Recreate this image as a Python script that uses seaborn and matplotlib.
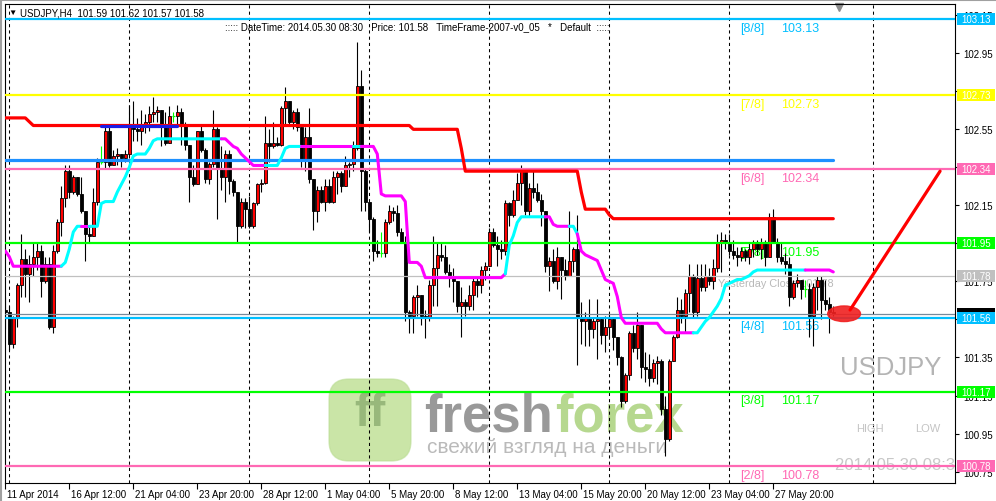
import numpy as np
import matplotlib
matplotlib.use('Agg')
import matplotlib.pyplot as plt
import seaborn as sns
from matplotlib.patches import Ellipse, FancyBboxPatch, Rectangle
from matplotlib.transforms import IdentityTransform, ScaledTranslation

sns.set_theme(style='white')
plt.rcParams['font.family'] = ['Liberation Sans', 'DejaVu Sans']

# --- USDJPY H4 candles (open of each bar = close of previous bar) ---
first_open = 101.60
closes = [101.59, 101.42, 101.56, 101.73, 101.87, 101.79, 101.84, 101.88, 101.91, 101.75,
          101.84, 101.51, 101.91, 102.06, 102.19, 102.33, 102.22, 102.30, 102.21, 102.12,
          102.00, 101.99, 102.17, 102.38, 102.38, 102.54, 102.36, 102.41, 102.42, 102.40,
          102.42, 102.57, 102.55, 102.54, 102.58, 102.59, 102.63, 102.64, 102.65, 102.57,
          102.48, 102.62, 102.62, 102.64, 102.57, 102.47, 102.30, 102.26, 102.54, 102.44,
          102.29, 102.37, 102.55, 102.34, 102.30, 102.42, 102.28, 102.22, 102.04, 102.17,
          102.13, 102.04, 102.16, 102.26, 102.27, 102.48, 102.46, 102.48, 102.47, 102.66,
          102.70, 102.59, 102.64, 102.56, 102.39, 102.51, 102.29, 102.12, 102.23, 102.17,
          102.25, 102.17, 102.30, 102.32, 102.25, 102.36, 102.37, 102.45, 102.78, 102.33,
          102.17, 102.08, 101.91, 101.90, 101.90, 102.06, 102.12, 102.11, 102.01, 101.96,
          101.59, 101.57, 101.67, 101.68, 101.57, 101.56, 101.73, 101.82, 101.89, 101.88,
          101.80, 101.78, 101.75, 101.62, 101.64, 101.62, 101.68, 101.75, 101.73, 101.81,
          101.83, 102.01, 101.94, 101.92, 101.91, 102.16, 102.10, 102.18, 102.27, 102.33,
          102.12, 102.24, 102.22, 102.18, 102.12, 101.83, 101.86, 101.75, 101.88, 101.81,
          101.78, 101.86, 101.92, 101.56, 101.54, 101.56, 101.50, 101.54, 101.55, 101.47,
          101.51, 101.55, 101.46, 101.35, 101.12, 101.26, 101.48, 101.40, 101.52, 101.30,
          101.29, 101.24, 101.32, 101.33, 101.08, 100.92, 101.33, 101.46, 101.60, 101.57,
          101.69, 101.78, 101.59, 101.77, 101.72, 101.78, 101.75, 101.82, 101.96, 101.97,
          101.95, 101.91, 101.89, 101.88, 101.91, 101.88, 101.92, 101.96, 101.92, 101.96,
          101.88, 102.09, 101.96, 101.88, 101.86, 101.84, 101.67, 101.74, 101.76, 101.71,
          101.71, 101.57, 101.72, 101.76, 101.65, 101.63, 101.59, 101.58]
highs = [101.67, 101.62, 101.57, 101.74, 102.00, 101.92, 101.89, 101.96, 101.96, 101.94,
         101.88, 101.88, 101.94, 102.08, 102.25, 102.36, 102.36, 102.31, 102.30, 102.30,
         102.12, 102.04, 102.24, 102.40, 102.46, 102.57, 102.57, 102.44, 102.45, 102.42,
         102.44, 102.68, 102.70, 102.61, 102.65, 102.63, 102.67, 102.72, 102.67, 102.65,
         102.64, 102.67, 102.64, 102.68, 102.66, 102.59, 102.47, 102.36, 102.54, 102.57,
         102.45, 102.38, 102.65, 102.56, 102.46, 102.44, 102.44, 102.29, 102.22, 102.19,
         102.19, 102.20, 102.17, 102.27, 102.29, 102.62, 102.55, 102.59, 102.51, 102.67,
         102.77, 102.70, 102.65, 102.66, 102.55, 102.56, 102.66, 102.29, 102.25, 102.25,
         102.29, 102.29, 102.33, 102.33, 102.33, 102.41, 102.38, 102.49, 103.01, 102.86,
         102.34, 102.16, 102.09, 101.97, 102.01, 102.08, 102.15, 102.14, 102.15, 102.03,
         101.99, 101.60, 101.68, 101.73, 101.67, 101.60, 101.76, 101.99, 101.95, 101.96,
         101.94, 101.84, 101.82, 101.75, 101.72, 101.66, 101.73, 101.77, 101.78, 101.83,
         101.85, 102.03, 102.03, 101.99, 101.97, 102.18, 102.17, 102.23, 102.32, 102.36,
         102.33, 102.27, 102.33, 102.27, 102.21, 102.12, 101.88, 101.92, 101.93, 101.88,
         101.87, 102.12, 101.93, 102.10, 101.64, 101.59, 101.66, 101.56, 101.66, 101.56,
         101.57, 101.58, 101.56, 101.46, 101.36, 101.27, 101.49, 101.52, 101.59, 101.47,
         101.38, 101.37, 101.34, 101.36, 101.34, 101.15, 101.34, 101.47, 101.67, 101.66,
         101.71, 101.84, 101.79, 101.84, 101.84, 101.84, 101.82, 101.87, 102.00, 102.01,
         102.00, 102.00, 101.97, 101.93, 101.93, 101.92, 101.95, 101.97, 101.97, 101.98,
         101.97, 102.11, 102.13, 101.98, 101.96, 101.90, 101.88, 101.76, 101.79, 101.76,
         101.76, 101.74, 101.74, 101.78, 101.78, 101.76, 101.67, 101.62]
lows = [101.50, 101.39, 101.40, 101.51, 101.67, 101.67, 101.64, 101.78, 101.81, 101.67,
        101.74, 101.50, 101.48, 101.90, 101.99, 102.14, 102.19, 102.21, 102.20, 102.11,
        101.86, 101.95, 101.99, 102.15, 102.37, 102.34, 102.35, 102.37, 102.36, 102.35,
        102.38, 102.41, 102.49, 102.49, 102.47, 102.53, 102.54, 102.59, 102.59, 102.46,
        102.47, 102.53, 102.59, 102.56, 102.47, 102.44, 102.17, 102.25, 102.28, 102.43,
        102.27, 102.26, 102.35, 102.08, 102.23, 102.17, 102.21, 102.20, 101.96, 102.03,
        102.03, 102.03, 102.03, 102.15, 102.22, 102.26, 102.38, 102.45, 102.46, 102.46,
        102.58, 102.57, 102.55, 102.54, 102.35, 102.33, 102.27, 102.02, 102.06, 102.16,
        102.12, 102.16, 102.16, 102.21, 102.22, 102.29, 102.30, 102.33, 102.44, 102.12,
        102.12, 102.01, 101.86, 101.88, 101.88, 101.88, 102.05, 102.07, 101.99, 101.95,
        101.54, 101.48, 101.48, 101.57, 101.52, 101.45, 101.54, 101.62, 101.62, 101.86,
        101.79, 101.72, 101.64, 101.59, 101.46, 101.57, 101.60, 101.60, 101.67, 101.69,
        101.76, 101.86, 101.93, 101.83, 101.87, 101.89, 102.04, 102.09, 102.19, 102.15,
        102.10, 102.09, 102.19, 102.17, 102.04, 101.80, 101.70, 101.74, 101.71, 101.66,
        101.76, 101.80, 101.80, 101.31, 101.42, 101.41, 101.41, 101.45, 101.34, 101.42,
        101.38, 101.45, 101.39, 101.31, 101.09, 101.11, 101.23, 101.38, 101.34, 101.24,
        101.22, 101.20, 101.22, 101.21, 101.05, 100.83, 100.91, 101.33, 101.45, 101.53,
        101.48, 101.59, 101.56, 101.57, 101.70, 101.70, 101.73, 101.71, 101.80, 101.80,
        101.92, 101.89, 101.87, 101.83, 101.86, 101.86, 101.84, 101.88, 101.89, 101.87,
        101.83, 101.88, 101.95, 101.85, 101.84, 101.79, 101.62, 101.66, 101.72, 101.66,
        101.67, 101.46, 101.41, 101.60, 101.55, 101.60, 101.48, 101.57]

date_labels = ['11 Apr 2014', '16 Apr 12:00', '21 Apr 04:00', '23 Apr 20:00', '28 Apr 12:00',
               '1 May 04:00', '5 May 20:00', '8 May 12:00', '13 May 04:00', '15 May 20:00',
               '20 May 12:00', '23 May 04:00', '27 May 20:00']
date_label_bars = [0, 16, 32, 48, 64, 80, 96, 112, 128, 144, 160, 176, 192]
grid_bars = [1, 31, 61, 91, 121, 151, 181, 217]

# indicator step lines: (first bar, value) held until the next entry
red_steps = [(0, 102.61), (6, 102.59), (7, 102.57), (102, 102.55), (114, 102.45),
             (115, 102.33), (144, 102.22), (145, 102.13), (151, 102.10), (152, 102.08)]
blue_overlay = (24, 43)
pivot_level = 102.39
trail_steps = [(0, 101.91), (1, 101.88), (2, 101.83), (15, 101.85), (16, 101.92), (17, 102.01),
               (18, 102.04), (24, 102.16), (25, 102.17), (28, 102.22), (29, 102.26), (30, 102.30),
               (31, 102.35), (32, 102.41), (33, 102.42), (36, 102.45), (37, 102.49), (38, 102.50),
               (56, 102.48), (57, 102.46), (58, 102.45), (59, 102.42), (60, 102.40), (61, 102.38),
               (62, 102.36), (69, 102.40), (70, 102.45), (71, 102.46), (93, 102.42), (94, 102.21),
               (95, 102.20), (100, 102.17), (101, 101.85), (104, 101.83), (105, 101.77),
               (125, 101.79), (126, 101.94), (127, 101.99), (128, 102.06), (129, 102.09),
               (137, 102.05), (138, 102.04), (143, 102.00), (144, 101.91), (145, 101.89),
               (146, 101.88), (147, 101.87), (148, 101.86), (149, 101.81), (150, 101.76),
               (151, 101.75), (152, 101.74), (153, 101.67), (154, 101.56), (155, 101.53),
               (164, 101.50), (165, 101.48), (174, 101.51), (175, 101.54), (176, 101.56),
               (177, 101.59), (178, 101.62), (179, 101.66), (180, 101.73), (181, 101.74),
               (182, 101.75), (183, 101.76), (185, 101.77), (186, 101.78), (187, 101.80),
               (188, 101.81), (207, 101.80)]
trail_colors = [(0, 14, 'm'), (14, 19, 'c'), (19, 21, 'm'), (21, 54, 'c'), (54, 65, 'm'),
                (65, 74, 'c'), (74, 87, 'm'), (87, 89, 'c'), (89, 125, 'm'), (125, 135, 'c'),
                (135, 141, 'm'), (141, 143, 'c'), (143, 172, 'm'), (172, 200, 'c'), (200, 207, 'm')]

SKY, YEL, PINK, LIME, SILVER = '#00bfff', '#ffff00', '#ff69b4', '#00ff00', '#c0c0c0'
murrey_levels = [103.13, 102.73, 102.34, 101.95, 101.56, 101.17, 100.78]
murrey_names = ['[8/8]', '[7/8]', '[6/8]', '[5/8]', '[4/8]', '[3/8]', '[2/8]']
murrey_colors = [SKY, YEL, PINK, LIME, SKY, LIME, PINK]
yesterday_close = 101.78
bid = 101.58
right_ticks = [100.75, 100.95, 101.15, 101.35, 101.55, 101.75, 101.95,
               102.15, 102.35, 102.55, 102.75, 102.95, 103.15]
hidden_ticks = [101.55, 101.95, 102.35, 102.75]   # fully covered by the level boxes

# hand-drawn arrow and ellipse (bar, price)
ellipse_center = (209.7, 101.58)
arrow_start = (211.2, 101.60)
arrow_end = (233.7, 102.33)


def expand(steps, n):
    vals = np.empty(n)
    ends = [s[0] for s in steps[1:]] + [n]
    for (b, v), e in zip(steps, ends):
        vals[b:e] = v
    return vals


n = len(closes)
bars = np.arange(n)
closes = np.array(closes)
opens = np.r_[first_open, closes[:-1]]
highs = np.maximum(np.array(highs), np.maximum(opens, closes))
lows = np.minimum(np.array(lows), np.minimum(opens, closes))

W, H = 996, 502
fig = plt.figure(figsize=(W / 100, H / 100), dpi=100, facecolor='white')
ax = fig.add_axes([5 / W, 1 - 484 / H, 950 / W, 479 / H])
ax.set_facecolor('white')
ax.set_xlim(-0.075, 237.43)
ax.set_ylim(100.690, 103.209)

# watermark logo (pixel coords)
ax.add_patch(FancyBboxPatch((329, H - 462), 82, 82, boxstyle='round,pad=0,rounding_size=20',
                            transform=IdentityTransform(), fc='#9fd060', ec='#b8dc90',
                            alpha=0.55, zorder=0.5, clip_on=False))
ax.text(370 / W, 1 - 414 / H, 'ff', transform=fig.transFigure, fontsize=34, fontweight='bold',
        color='#6f9457', alpha=0.55, ha='center', va='center', zorder=0.6)
ax.text(424 / W, 1 - 432 / H, 'fresh', transform=fig.transFigure, fontsize=38, fontweight='bold',
        color='#6e6e6e', alpha=0.7, ha='left', va='baseline', zorder=0.6)
ax.text(555 / W, 1 - 432 / H, 'forex', transform=fig.transFigure, fontsize=38, fontweight='bold',
        color='#98c860', alpha=0.7, ha='left', va='baseline', zorder=0.6)
ax.text(427 / W, 1 - 448 / H, 'свежий взгляд на деньги', transform=fig.transFigure, fontsize=15,
        color='#8c8c8c', alpha=0.6, ha='left', va='center', zorder=0.6)

# grid
for b in grid_bars:
    ax.axvline(b, color='black', lw=0.75, ls=(0, (3, 3)), zorder=1)

# level texts (behind candles)
ytr = ax.get_yaxis_transform()
for lvl, name, col in zip(murrey_levels, murrey_names, murrey_colors):
    ax.annotate(name, xy=(0.7737, lvl), xycoords=ytr, xytext=(0, -6.3), textcoords='offset points',
                color=col, fontsize=9, ha='left', va='center', zorder=1.5, annotation_clip=False)
    ax.annotate(f'{lvl:.2f}', xy=(0.8168, lvl), xycoords=ytr, xytext=(0, -6.3),
                textcoords='offset points', color=col, fontsize=9, ha='left', va='center', zorder=1.5)
ax.annotate(f'Yesterday Close {yesterday_close:.2f}', xy=(0.7505, yesterday_close), xycoords=ytr,
            xytext=(0, -5), textcoords='offset points', color='#b8b8b8', fontsize=7.8,
            ha='left', va='center', zorder=1.5)
ax.text(891 / W, 1 - 368 / H, 'USDJPY', transform=fig.transFigure, fontsize=18.5, color='#b4b4b4',
        ha='center', va='center', zorder=1.5)
ax.text(870 / W, 1 - 429 / H, 'HIGH', transform=fig.transFigure, fontsize=8, color='#c4c4c4',
        ha='center', va='center', zorder=1.5)
ax.text(928 / W, 1 - 429 / H, 'LOW', transform=fig.transFigure, fontsize=8, color='#c4c4c4',
        ha='center', va='center', zorder=1.5)
stamp = ax.text(835 / W, 1 - 466 / H, '2014.05.30 08:30', transform=fig.transFigure, fontsize=12,
                color='#c8c8c8', ha='left', va='center', zorder=1.5)
stamp.set_clip_box(ax.bbox)
stamp.set_clip_on(True)

# candles
doji = np.isclose(opens, closes)
bull = closes > opens
wick_col = np.where(doji, LIME, 'black')
ax.vlines(bars, lows, highs, colors=wick_col, lw=0.8, zorder=3)
body_col = np.where(bull, '#ff0000', 'black')
nd = ~doji
ax.bar(bars[nd], (closes - opens)[nd], bottom=opens[nd], width=0.62, color=body_col[nd],
       edgecolor='black', linewidth=0.6, zorder=4)
ax.hlines(closes[doji], bars[doji] - 0.4, bars[doji] + 0.4, colors=LIME, lw=0.9, zorder=4)

# horizontal levels
for lvl, col in zip(murrey_levels, murrey_colors):
    ax.axhline(lvl, color=col, lw=1.6, zorder=5)
ax.axhline(yesterday_close, color=SILVER, lw=0.9, zorder=5)
ax.axhline(bid, color='#778899', lw=0.9, zorder=5)

# indicator lines
sns.lineplot(x=bars, y=np.full(n, pivot_level), ax=ax, color='#1e90ff', linewidth=2.3, zorder=6)
red_line = expand(red_steps, n)
sns.lineplot(x=bars, y=red_line, ax=ax, color='#ff0000', linewidth=2.3, zorder=6)
b0, b1 = blue_overlay
sns.lineplot(x=bars[b0:b1 + 1], y=red_line[b0:b1 + 1], ax=ax, color='#1c1ce6', linewidth=2.3, zorder=6.5)
trail = expand(trail_steps, n)
for s, e, c in trail_colors:
    sns.lineplot(x=bars[s:e + 1], y=trail[s:e + 1], ax=ax,
                 color='#ff00ff' if c == 'm' else '#00ffff', linewidth=2.2, zorder=6.2)

# red drawing
ax.add_patch(Ellipse(ellipse_center, width=8.2, height=0.082, color='#f02020', alpha=0.9,
                     zorder=7, clip_on=False))
ax.plot([arrow_start[0], arrow_end[0]], [arrow_start[1], arrow_end[1]], color='#ff0000',
        lw=2.3, zorder=7, clip_on=False)

# axes styling
for sp in ax.spines.values():
    sp.set_color('black')
    sp.set_linewidth(0.8)
    sp.set_visible(True)
ax.yaxis.tick_right()
ax.set_yticks(right_ticks)
ax.set_yticklabels(['' if t in hidden_ticks else f'{t:.2f}' for t in right_ticks])
ax.tick_params(axis='y', which='both', right=True, left=False, length=3, width=0.8,
               pad=3, labelsize=7, colors='black', direction='out')
ax.set_xticks(date_label_bars)
ax.set_xticklabels(date_labels)
ax.tick_params(axis='x', bottom=True, length=4, width=0.8, pad=0.5, labelsize=7,
               colors='black', direction='out')
shift = ScaledTranslation(2 / 100, 0, fig.dpi_scale_trans)
for lab in ax.get_xticklabels():
    lab.set_ha('left')
    lab.set_transform(lab.get_transform() + shift)
ax.set_xlabel('')
ax.set_ylabel('')
ax.grid(False)

# price boxes on the right scale: 38 px wide, 12 px tall (bid box mostly hidden under 4/8)
box_w = 38 / 950
box_h = 12 / 190.2
ax.add_patch(Rectangle((1.0021, bid - box_h / 2), box_w, box_h, transform=ytr, fc='black',
                       ec='none', clip_on=False, zorder=8))
box_levels = murrey_levels + [yesterday_close]
box_colors = murrey_colors + [SILVER]
for lvl, col in zip(box_levels, box_colors):
    ax.add_patch(Rectangle((1.0021, lvl - box_h / 2), box_w, box_h, transform=ytr, fc=col,
                           ec='none', clip_on=False, zorder=9))
    ax.text(1.0021 + box_w / 2, lvl, f'{lvl:.2f}', transform=ytr, color='white', fontsize=7,
            ha='center', va='center', clip_on=False, zorder=10)

# header texts
fig.text(12 / W, 1 - 13.5 / H, '▼', fontsize=6, color='black', ha='center', va='center')
fig.text(20.5 / W, 1 - 13.5 / H, 'USDJPY,H4  101.59 101.62 101.57 101.58', fontsize=7,
         color='black', ha='left', va='center')
fig.text(225 / W, 1 - 27 / H, '::::: DateTime: 2014.05.30 08:30   Price: 101.58   '
         'TimeFrame-2007-v0_05   *   Default  :::::', fontsize=7, color='black',
         ha='left', va='center')
ax.plot([839], [H - 8], marker='v', ms=6, color='#8c8c8c', transform=IdentityTransform(),
        clip_on=False)

# window frame
fig.add_artist(plt.Line2D([1 / W, 1 / W], [0, 1], color='#a0a0a0', lw=1.5))
fig.add_artist(plt.Line2D([0, 1], [1 - 1 / H, 1 - 1 / H], color='#a0a0a0', lw=1.5))

fig.savefig('out.png', dpi=100, facecolor='white')
